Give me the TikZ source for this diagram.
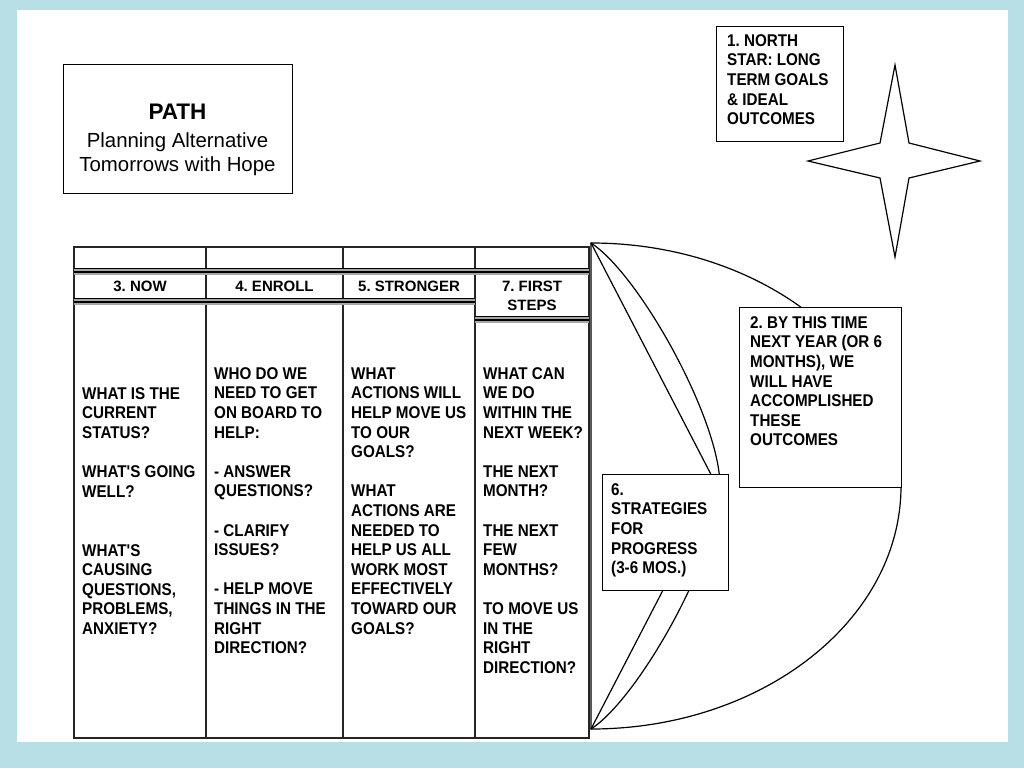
\documentclass[tikz,border=0pt]{standalone}
\usepackage{fontspec}
\setmainfont{Liberation Sans}
\newfontfamily\narrowsans[FakeStretch=0.895]{Liberation Sans}
\usetikzlibrary{positioning}
\definecolor{slideblue}{HTML}{B9DFE6}
\frenchspacing
\tikzset{
  card/.style={draw=black, fill=white, line width=1.2pt, anchor=north west},
  prompt/.style={font=\narrowsans\bfseries\fontsize{17}{19.6}\selectfont, align=left, anchor=north west, execute at begin node=\strut},
  colhead/.style={font=\bfseries\fontsize{15}{19}\selectfont, align=center},
  grid/.style={line width=1.2pt, draw=black!85},
  band/.style={line width=2.6pt}
}
\begin{document}
\begin{tikzpicture}[x=1pt,y=-1pt]
\tikzstyle{every node}+=[inner sep=0pt]
\useasboundingbox (0,0) rectangle (1024,768);
\fill [slideblue] (0,0) rectangle (1024,768);
\fill [white] (17,10) rectangle (1008,742);
% table
\draw [grid] (74,247) rectangle (589,738);
\foreach \x in {206,343,475}
  \draw [grid] (\x,247) -- (\x,738);
\foreach \y/\xa/\xb in {268/74/589,298/74/475,316/475/589}
{
  \fill [black!35] (\xa,\y) rectangle (\xb,\y+7);
  \draw [line width=1pt] (\xa,\y+0.5) -- (\xb,\y+0.5);
  \draw [band] (\xa,\y+4) -- (\xb,\y+4);
}
\node [colhead] (now) at (140,286.5) {3. NOW};
\node [colhead] (enroll) at (274.5,286.5) {4. ENROLL};
\node [colhead] (stronger) at (409,286.5) {5. STRONGER};
\node [colhead] (first) at (532,296) {7. FIRST\\STEPS};
\node [prompt] (nowtext) at (82,387.3) {WHAT IS THE\\CURRENT\\STATUS?\\[19.6pt]WHAT'S GOING\\WELL?\\[39.2pt]WHAT'S\\CAUSING\\QUESTIONS,\\PROBLEMS,\\ANXIETY?};
\node [prompt] (enrolltext) at (214,367.3) {WHO DO WE\\NEED TO GET\\ON BOARD TO\\HELP:\\[19.6pt]- ANSWER\\QUESTIONS?\\[19.6pt]- CLARIFY\\ISSUES?\\[19.6pt]- HELP MOVE\\THINGS IN THE\\RIGHT\\DIRECTION?};
\node [prompt] (strongertext) at (351,367.3) {WHAT\\ACTIONS WILL\\HELP MOVE US\\TO OUR\\GOALS?\\[19.6pt]WHAT\\ACTIONS ARE\\NEEDED TO\\HELP US ALL\\WORK MOST\\EFFECTIVELY\\TOWARD OUR\\GOALS?};
\node [prompt] (firsttext) at (483,367.3) {WHAT CAN\\WE DO\\WITHIN THE\\NEXT WEEK?\\[19.6pt]THE NEXT\\MONTH?\\[19.6pt]THE NEXT\\FEW\\MONTHS?\\[19.6pt]TO MOVE US\\IN THE\\RIGHT\\DIRECTION?};
% path shape
\coordinate (top) at (591,243);
\coordinate (bot) at (591,729);
\coordinate (tip) at (717,486);
\coordinate (ridge) at (720,486);
\draw [line width=1.2pt] (top) arc [start angle=90, end angle=-90, x radius=310pt, y radius=243pt] -- cycle;
\draw [line width=1.2pt] (top) -- (tip) -- (bot);
\draw [line width=1.2pt] (top) .. controls (640,275) and (720,420) .. (ridge) .. controls (720,552) and (640,697) .. (bot);
% boxes
\node [card, minimum width=229, minimum height=129] (pathbox) at (63,64) {};
\node [card, minimum width=127, minimum height=115] (northbox) at (716,26) {};
\node [card, minimum width=162, minimum height=180] (yearbox) at (739,307) {};
\node [card, minimum width=126, minimum height=116] (stratbox) at (602,474) {};
\node [font=\bfseries\fontsize{22.5}{26}\selectfont, anchor=base] (pathtitle) at (177.5,119) {PATH};
\node [font=\fontsize{20.4}{24}\selectfont, align=center, anchor=base] (pathsub) at (177.5,171) {Planning Alternative\\Tomorrows with Hope};
\node [prompt] (northtext) at (727,34.3) {1. NORTH\\STAR: LONG\\TERM GOALS\\\& IDEAL\\OUTCOMES};
\node [prompt] (yeartext) at (750,316.3) {2. BY THIS TIME\\NEXT YEAR (OR 6\\MONTHS), WE\\WILL HAVE\\ACCOMPLISHED\\THESE\\OUTCOMES};
\node [prompt] (strattext) at (611,483.3) {6.\\STRATEGIES\\FOR\\PROGRESS\\(3-6 MOS.)};
% star
\draw [line width=1.2pt] (895,65) -- (909,143) -- (980,161) -- (909,178) -- (895,257) -- (880,178) -- (808,161) -- (880,143) -- cycle;
\end{tikzpicture}
\end{document}
